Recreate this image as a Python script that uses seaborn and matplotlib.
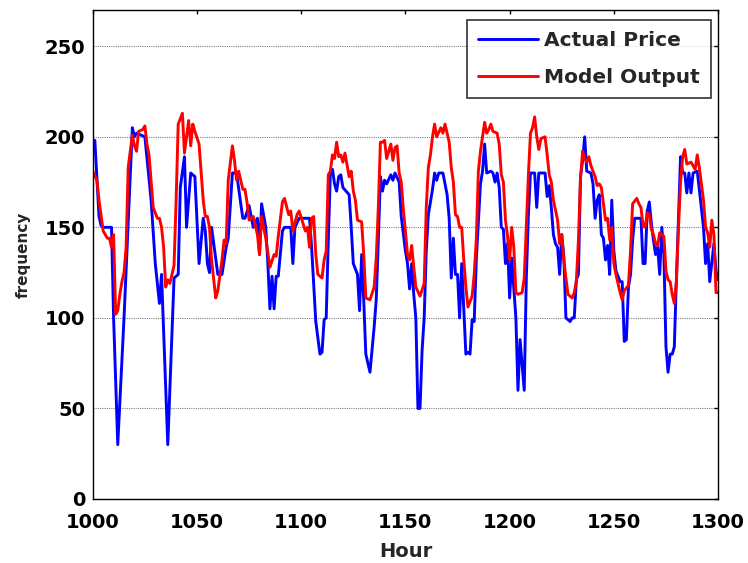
import numpy as np
import pandas as pd
import seaborn as sns
import matplotlib
matplotlib.use("Agg")
import matplotlib.pyplot as plt

# ---- data ----
actual_hours = [1000, 1001, 1003, 1004, 1005, 1009, 1010, 1012, 1015, 1019, 1020, 1021, 1025, 1028, 1030, 1032,
                1033, 1036, 1039, 1041, 1042, 1044, 1045, 1047, 1049, 1051, 1053, 1054, 1055, 1056, 1057, 1060,
                1062, 1064, 1065, 1067, 1069, 1071, 1072, 1073, 1075, 1077, 1079, 1080, 1081, 1083, 1084, 1085,
                1086, 1087, 1088, 1089, 1091, 1092, 1095, 1096, 1097, 1099, 1104, 1105, 1106, 1107, 1109, 1110,
                1111, 1112, 1113, 1114, 1115, 1116, 1117, 1118, 1119, 1120, 1123, 1124, 1125, 1127, 1128, 1129,
                1130, 1131, 1133, 1135, 1136, 1137, 1138, 1139, 1140, 1141, 1143, 1144, 1145, 1147, 1148, 1150,
                1151, 1152, 1153, 1154, 1155, 1156, 1157, 1158, 1159, 1160, 1161, 1163, 1164, 1165, 1166, 1168,
                1170, 1171, 1172, 1173, 1174, 1175, 1176, 1177, 1179, 1180, 1181, 1182, 1183, 1184, 1186, 1187,
                1188, 1189, 1191, 1192, 1193, 1194, 1195, 1196, 1197, 1198, 1199, 1200, 1201, 1203, 1204, 1205,
                1207, 1208, 1209, 1210, 1212, 1213, 1214, 1217, 1218, 1219, 1220, 1221, 1222, 1223, 1224, 1225,
                1226, 1227, 1229, 1230, 1231, 1232, 1233, 1234, 1235, 1236, 1237, 1239, 1240, 1241, 1242, 1243,
                1244, 1245, 1246, 1247, 1248, 1249, 1250, 1251, 1253, 1254, 1255, 1256, 1257, 1258, 1259, 1260,
                1263, 1264, 1265, 1266, 1267, 1268, 1269, 1270, 1271, 1272, 1273, 1274, 1275, 1276, 1277, 1278,
                1279, 1280, 1282, 1283, 1284, 1285, 1286, 1287, 1288, 1290, 1291, 1293, 1294, 1295, 1296, 1298,
                1299, 1300]
actual_price = [194, 198, 156, 151, 150, 150, 100, 30, 100, 205, 200, 202, 200, 165, 130, 108,
                124, 30, 122, 124, 172, 189, 150, 180, 178, 130, 155, 148, 130, 125, 150, 124,
                124, 139, 144, 180, 180, 163, 155, 155, 162, 150, 155, 135, 163, 150, 130, 105,
                123, 105, 123, 123, 148, 150, 150, 130, 150, 155, 155, 139, 119, 98, 80, 81,
                99, 100, 143, 180, 182, 174, 170, 178, 179, 172, 168, 150, 130, 124, 104, 135,
                110, 80, 70, 95, 110, 143, 178, 170, 176, 174, 179, 176, 180, 175, 156, 137,
                130, 116, 130, 113, 100, 50, 50, 82, 100, 137, 157, 171, 180, 176, 180, 180,
                168, 155, 122, 144, 124, 124, 100, 130, 80, 81, 80, 99, 98, 132, 174, 181,
                196, 180, 181, 180, 175, 180, 172, 150, 149, 130, 141, 111, 133, 100, 60, 88,
                60, 122, 157, 180, 180, 161, 180, 180, 167, 173, 161, 146, 141, 139, 124, 146,
                134, 100, 98, 100, 100, 121, 124, 178, 187, 200, 181, 180, 174, 155, 165, 168,
                146, 144, 132, 140, 124, 165, 137, 126, 120, 120, 87, 88, 117, 124, 143, 155,
                155, 130, 130, 159, 164, 152, 143, 135, 139, 124, 150, 135, 84, 70, 80, 80,
                84, 121, 189, 180, 180, 169, 180, 169, 180, 181, 171, 150, 130, 141, 120, 141,
                126, 121]

model_hours = [1000, 1002, 1003, 1005, 1007, 1008, 1009, 1010, 1011, 1012, 1013, 1014, 1015, 1016, 1017, 1019,
               1020, 1021, 1022, 1024, 1025, 1026, 1027, 1029, 1031, 1032, 1033, 1034, 1035, 1036, 1037, 1039,
               1040, 1041, 1043, 1044, 1046, 1047, 1048, 1049, 1051, 1053, 1054, 1055, 1056, 1057, 1059, 1060,
               1062, 1063, 1064, 1065, 1067, 1068, 1069, 1070, 1072, 1073, 1074, 1075, 1077, 1079, 1080, 1081,
               1083, 1085, 1087, 1088, 1089, 1091, 1092, 1094, 1095, 1096, 1098, 1099, 1102, 1103, 1104, 1105,
               1106, 1107, 1108, 1110, 1111, 1112, 1113, 1114, 1115, 1116, 1117, 1118, 1119, 1120, 1121, 1123,
               1124, 1125, 1126, 1127, 1129, 1130, 1131, 1133, 1135, 1136, 1137, 1138, 1139, 1140, 1141, 1143,
               1144, 1145, 1146, 1147, 1148, 1149, 1150, 1151, 1152, 1153, 1154, 1155, 1157, 1159, 1160, 1161,
               1162, 1163, 1164, 1165, 1167, 1168, 1169, 1171, 1172, 1173, 1174, 1175, 1176, 1177, 1178, 1179,
               1180, 1182, 1183, 1184, 1185, 1186, 1188, 1189, 1190, 1191, 1192, 1194, 1195, 1196, 1197, 1198,
               1199, 1200, 1201, 1202, 1203, 1204, 1206, 1207, 1208, 1209, 1210, 1211, 1212, 1213, 1214, 1215,
               1217, 1218, 1219, 1220, 1221, 1223, 1224, 1225, 1226, 1227, 1228, 1230, 1231, 1232, 1233, 1234,
               1235, 1236, 1237, 1238, 1239, 1240, 1241, 1242, 1243, 1244, 1245, 1246, 1247, 1248, 1249, 1250,
               1251, 1253, 1254, 1255, 1257, 1258, 1259, 1261, 1262, 1263, 1264, 1265, 1266, 1267, 1268, 1269,
               1270, 1271, 1272, 1274, 1275, 1276, 1277, 1278, 1279, 1280, 1281, 1282, 1283, 1284, 1285, 1287,
               1288, 1289, 1290, 1291, 1293, 1294, 1295, 1296, 1297, 1298, 1299, 1300]
model_output = [181, 176, 165, 148, 144, 144, 139, 146, 102, 104, 113, 120, 125, 139, 183, 201,
                195, 192, 203, 204, 206, 196, 190, 161, 155, 155, 150, 139, 117, 121, 119, 129,
                165, 207, 213, 191, 209, 195, 207, 203, 196, 165, 156, 156, 150, 132, 111, 115,
                132, 143, 141, 176, 195, 187, 176, 181, 171, 171, 164, 154, 156, 146, 135, 156,
                144, 128, 135, 134, 145, 164, 166, 157, 159, 148, 157, 159, 148, 150, 139, 155,
                156, 135, 124, 122, 132, 137, 179, 181, 190, 188, 197, 189, 190, 186, 191, 178,
                181, 170, 165, 154, 153, 135, 111, 110, 117, 133, 161, 197, 197, 198, 188, 196,
                187, 194, 195, 180, 175, 160, 148, 135, 132, 140, 128, 117, 112, 119, 161, 183,
                190, 200, 207, 200, 205, 202, 207, 197, 183, 175, 157, 156, 150, 150, 132, 117,
                106, 112, 124, 143, 181, 192, 208, 202, 204, 207, 203, 202, 196, 179, 175, 154,
                145, 132, 150, 139, 114, 113, 114, 122, 150, 179, 202, 205, 211, 200, 193, 199,
                200, 190, 179, 175, 165, 154, 141, 146, 132, 122, 113, 111, 114, 120, 143, 177,
                192, 188, 186, 189, 184, 181, 178, 173, 174, 172, 163, 154, 155, 143, 150, 130,
                124, 114, 110, 115, 118, 137, 163, 166, 163, 161, 151, 150, 158, 157, 149, 146,
                141, 140, 147, 145, 126, 121, 120, 113, 108, 120, 150, 175, 189, 193, 185, 186,
                184, 182, 190, 183, 165, 150, 147, 139, 154, 146, 114, 114]

x_ticks = [1000, 1050, 1100, 1150, 1200, 1250, 1300]
y_ticks = [0, 50, 100, 150, 200, 250]

# ---- plotting ----
sns.set_style("white")
plt.rcParams['font.family'] = ['DejaVu Sans']
plt.rcParams['font.weight'] = 'bold'

fig = plt.figure(figsize=(7.48, 5.63), dpi=100)
ax = fig.add_axes([0.124, 0.1137, 0.836, 0.8685])

df_a = pd.DataFrame({"Hour": actual_hours, "value": actual_price})
df_m = pd.DataFrame({"Hour": model_hours, "value": model_output})
sns.lineplot(data=df_a, x="Hour", y="value", ax=ax, color="#0000ff", linewidth=2.1, label="Actual Price")
sns.lineplot(data=df_m, x="Hour", y="value", ax=ax, color="#ff0000", linewidth=2.1, label="Model Output")

ax.set_xlim(1000, 1300)
ax.set_ylim(0, 270)
ax.set_xticks(x_ticks)
ax.set_yticks(y_ticks)
ax.set_xticklabels([str(t) for t in x_ticks], fontsize=14, fontweight='bold')
ax.set_yticklabels([str(t) for t in y_ticks], fontsize=14, fontweight='bold')
ax.tick_params(direction='in', length=3, width=1, top=True, right=True, colors='black')
ax.tick_params(axis='x', pad=10)
ax.tick_params(axis='y', pad=5.5)
ax.yaxis.grid(True, linestyle=(0, (1, 1)), color='#808080', linewidth=0.8)
ax.xaxis.grid(False)
for s in ax.spines.values():
    s.set_color('black')
    s.set_linewidth(1.0)

ax.set_xlabel("Hour", fontsize=14, fontweight='bold', labelpad=7)
ax.set_ylabel("frequency", fontsize=11, fontweight='bold', labelpad=10)

leg = ax.legend(loc='upper right', bbox_to_anchor=(0.989, 0.98), frameon=True, fancybox=False,
                edgecolor='black', fontsize=14.5, handlelength=3.0, labelspacing=0.9,
                borderpad=0.55, handletextpad=0.3, borderaxespad=0)
leg.get_frame().set_linewidth(1.2)
for t in leg.get_texts():
    t.set_fontweight('bold')

fig.savefig("out.png", dpi=100)
